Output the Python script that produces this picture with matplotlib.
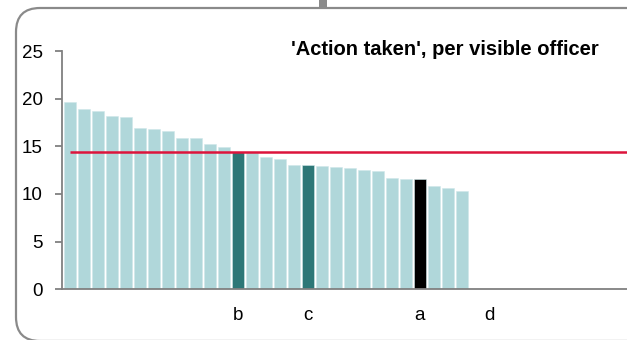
import numpy as np
import matplotlib
matplotlib.use("Agg")
import matplotlib.pyplot as plt
from matplotlib.patches import FancyBboxPatch, Rectangle
from matplotlib.transforms import IdentityTransform

# ======================
# data
# ======================
values = [19.69, 18.95, 18.74, 18.22, 18.11, 16.96, 16.82, 16.64, 15.91, 15.84,
          15.25, 14.90, 14.40, 14.37, 13.86, 13.68, 13.05, 13.02, 12.92, 12.78,
          12.70, 12.56, 12.45, 11.69, 11.57, 11.57, 10.84, 10.63, 10.31]
highlight = {12: "#2d7777", 17: "#2d7777", 25: "#000000"}
label_pos = [12, 17, 25, 30]
label_txt = ["b", "c", "a", "d"]
average = 14.43

BAR = "#b0d7da"
RED = "#dc143c"
GREY = "#808080"

W, H = 627, 340
fig = plt.figure(figsize=(W / 100, H / 100), dpi=100)
plt.rcParams['font.family'] = ['Liberation Sans', 'DejaVu Sans']

# rounded frame + stub at the top
frame = FancyBboxPatch((16, -1), 700, 333, boxstyle="round,pad=0,rounding_size=24",
                       transform=IdentityTransform(), fill=False,
                       edgecolor="#8a8a8a", linewidth=1.6)
fig.patches.append(frame)
fig.patches.append(Rectangle((319, 332), 8, 10, transform=IdentityTransform(),
                             facecolor="#8a8a8a", edgecolor="none"))

ax = fig.add_axes([62 / W, (H - 289.3) / H, (W - 62) / W, (289.3 - 51) / H])

x = np.arange(len(values))
colors = [highlight.get(i, BAR) for i in x]
ax.bar(x, values, width=0.83, color=colors, edgecolor="#cfe8ea", linewidth=0.4)
ax.hlines(average, 0, 39.8, color=RED, linewidth=1.8, zorder=3)

ax.set_xlim(-0.557, 39.8)
ax.set_ylim(0, 25)
ax.set_yticks([0, 5, 10, 15, 20, 25])
ax.set_xticks(label_pos)
ax.set_xticklabels(label_txt)

for s in ["top", "right"]:
    ax.spines[s].set_visible(False)
for s in ["left", "bottom"]:
    ax.spines[s].set_color(GREY)
    ax.spines[s].set_linewidth(1.3)
ax.tick_params(axis="y", length=5, width=1.3, color=GREY, pad=9, labelsize=13.5)
ax.tick_params(axis="x", length=0, pad=13, labelsize=13.5)
ax.patch.set_alpha(0)

fig.text(445 / W, (H - 55) / H, "'Action taken', per visible officer",
         ha="center", va="baseline", fontsize=14.5, fontweight="bold")

fig.savefig("out.png", dpi=100)
